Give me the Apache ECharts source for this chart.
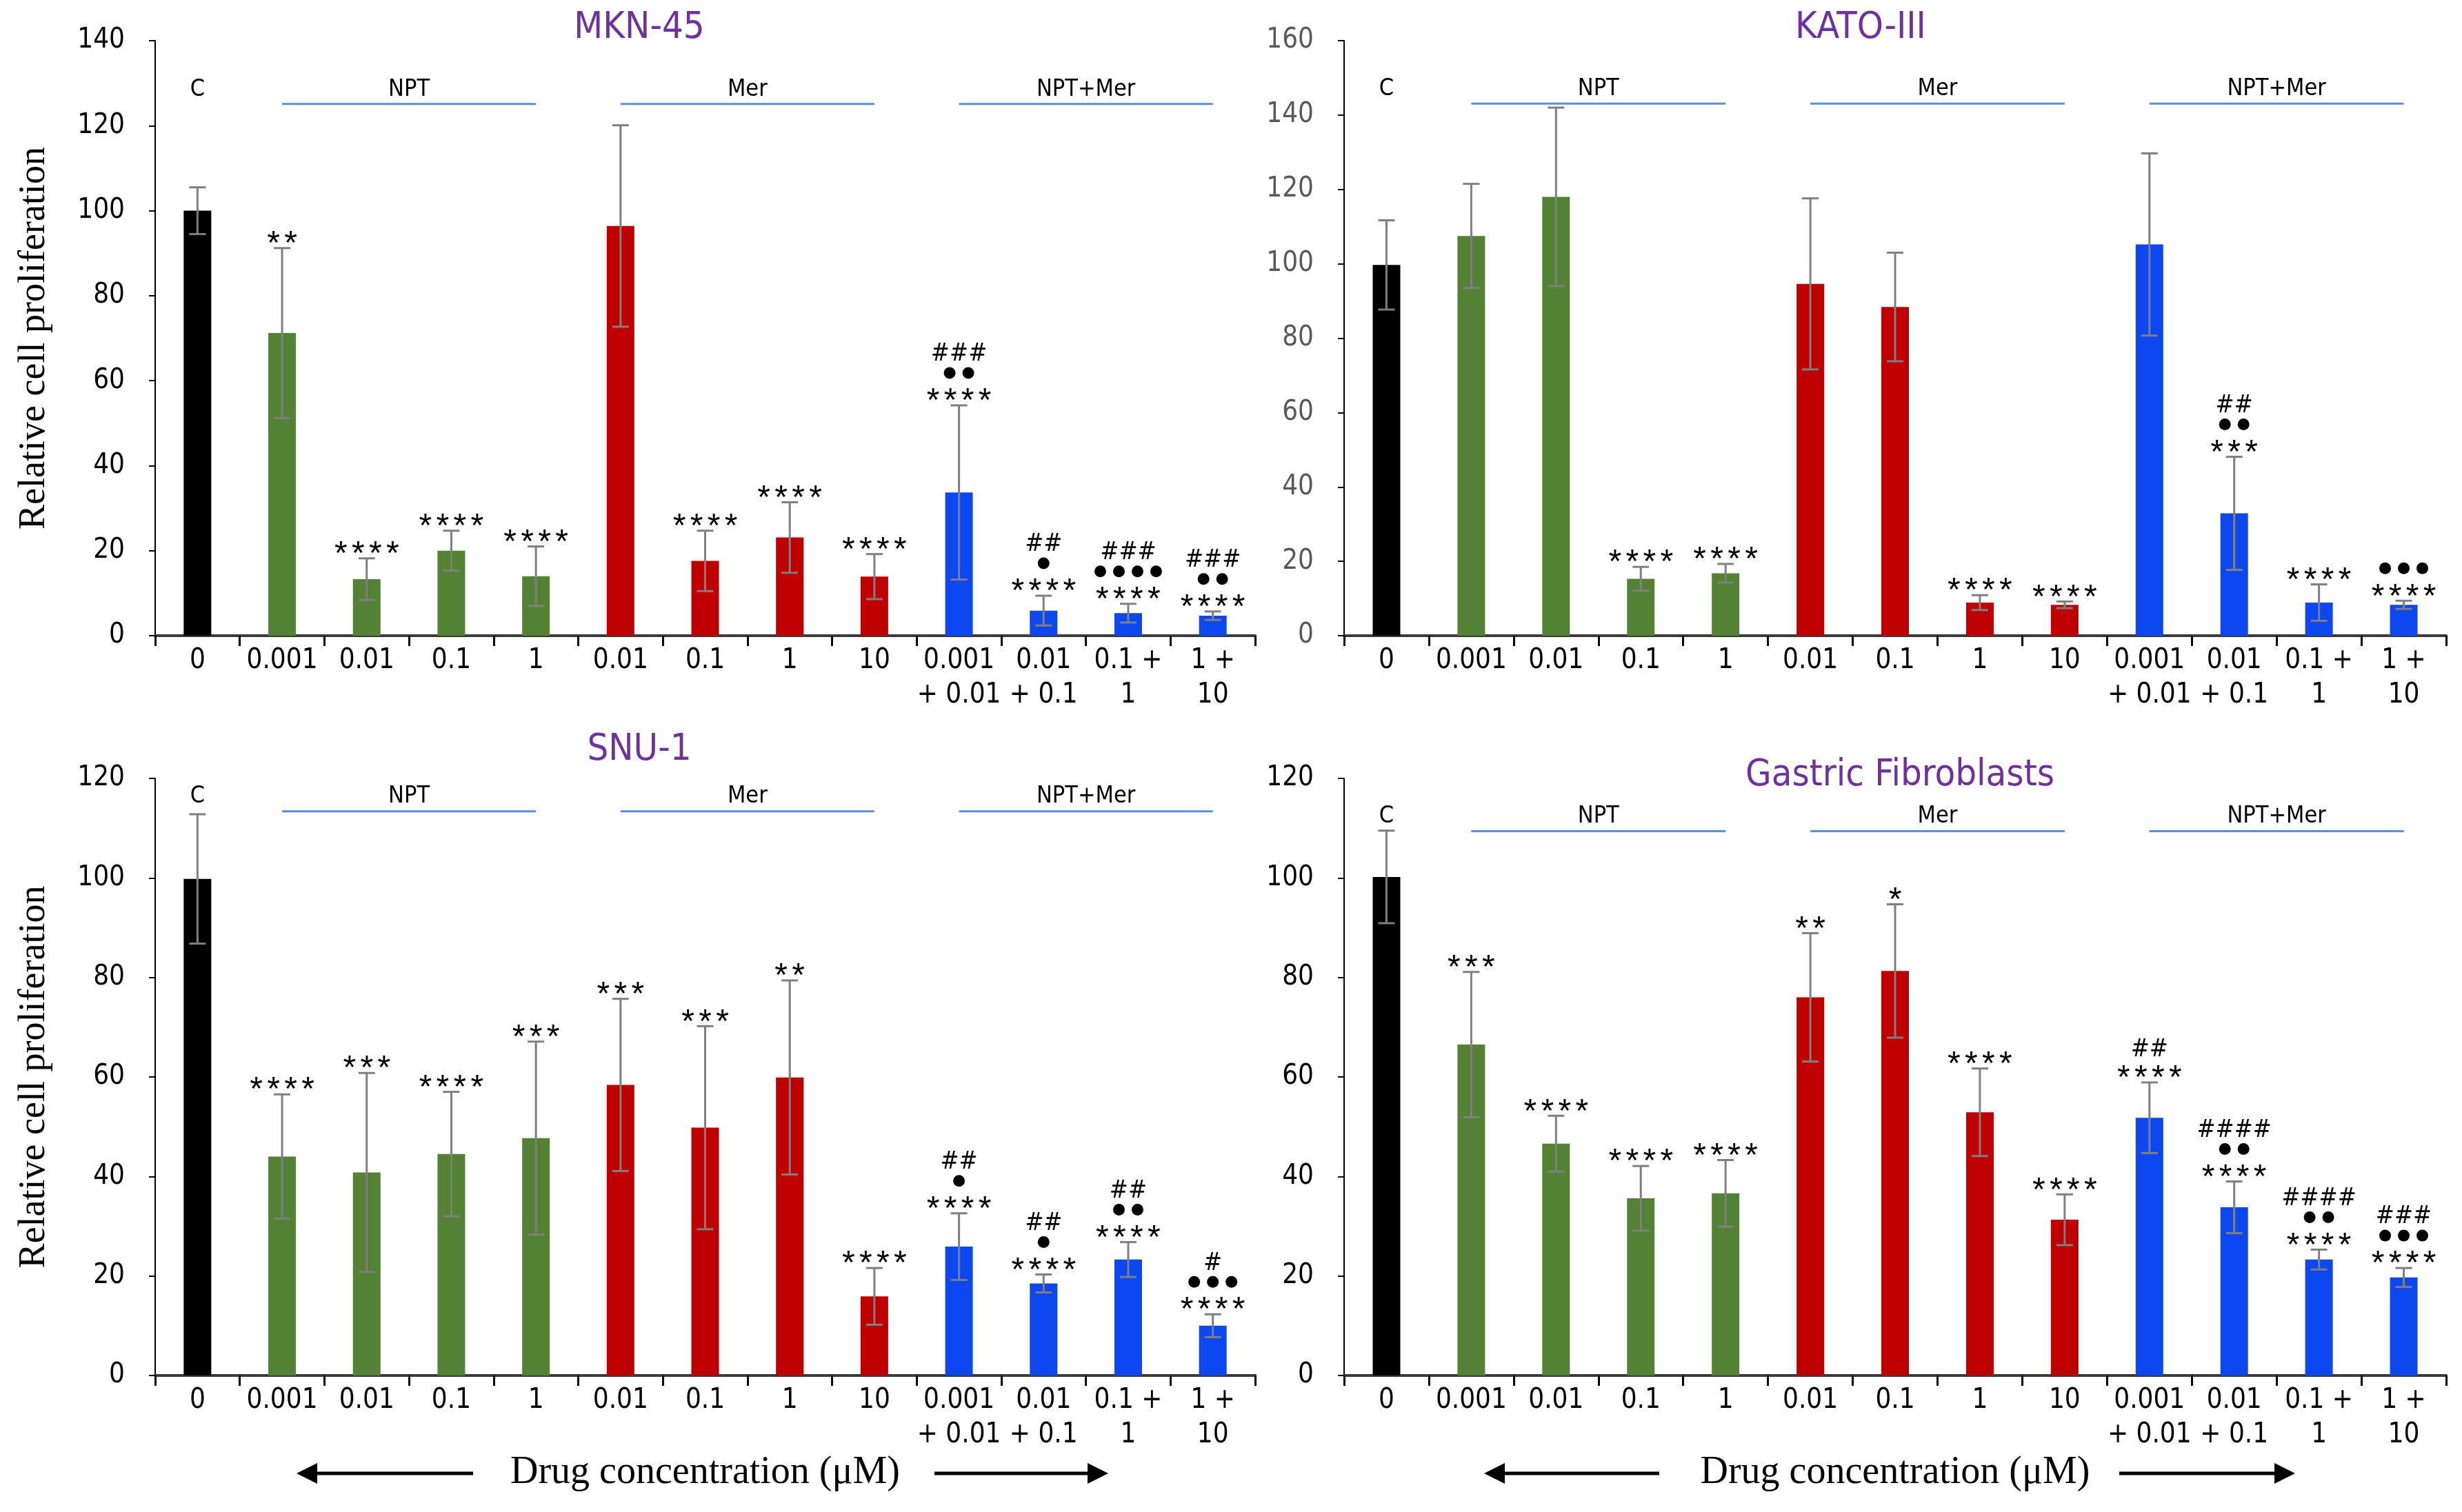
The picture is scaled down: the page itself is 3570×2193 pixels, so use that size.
<!DOCTYPE html>
<html>
<head>
<meta charset="utf-8">
<script src="https://cdn.jsdelivr.net/npm/echarts@6/dist/echarts.min.js"></script>
<style>
  html, body { margin: 0; padding: 0; background: #fff; }
  #main { width: 3570px; height: 2193px; }
</style>
</head>
<body>
<div id="main"></div>
<script>
// categories (drug concentration, uM) and treatment groups
const categories = ['0', '0.001', '0.01', '0.1', '1', '0.01', '0.1', '1', '10',
  '0.001\n+ 0.01', '0.01\n+ 0.1', '0.1 +\n1', '1 +\n10'];
const groupNames = ['C', 'NPT', 'Mer', 'NPT+Mer'];
const groupStart = [0, 1, 5, 9];
const groupEnd = [0, 4, 8, 12];

// MKN-45
const mknMean = [100, 71.2, 13.3, 20.0, 14.0, 96.4, 17.6, 23.1, 13.9, 33.7, 5.9, 5.3, 4.7];
const mknErr = [5.5, 20.0, 4.9, 4.7, 7.0, 23.7, 7.1, 8.3, 5.3, 20.5, 3.5, 2.2, 1.0];
const mknStars = ['', '**', '****', '****', '****', '', '****', '****', '****', '****', '****', '****', '****'];
const mknDots = [0, 0, 0, 0, 0, 0, 0, 0, 0, 2, 1, 4, 2];
const mknHash = ['', '', '', '', '', '', '', '', '', '###', '##', '###', '###'];

// KATO-III
const katoMean = [99.7, 107.5, 118.0, 15.3, 16.8, 94.6, 88.4, 8.9, 8.3, 105.2, 32.9, 8.9, 8.3];
const katoErr = [12.0, 14.0, 24.0, 3.2, 2.5, 23.0, 14.6, 2.0, 0.9, 24.5, 15.2, 4.9, 1.1];
const katoStars = ['', '', '', '****', '****', '', '', '****', '****', '', '***', '****', '****'];
const katoDots = [0, 0, 0, 0, 0, 0, 0, 0, 0, 0, 2, 0, 3];
const katoHash = ['', '', '', '', '', '', '', '', '', '', '##', '', ''];

// SNU-1
const snuMean = [99.8, 44.0, 40.8, 44.5, 47.7, 58.4, 49.8, 59.9, 15.9, 25.9, 18.5, 23.3, 10.0];
const snuErr = [13.0, 12.5, 20.0, 12.5, 19.4, 17.3, 20.4, 19.5, 5.7, 6.7, 1.8, 3.5, 2.3];
const snuStars = ['', '****', '***', '****', '***', '***', '***', '**', '****', '****', '****', '****', '****'];
const snuDots = [0, 0, 0, 0, 0, 0, 0, 0, 0, 1, 1, 2, 3];
const snuHash = ['', '', '', '', '', '', '', '', '', '##', '##', '##', '#'];

// Gastric Fibroblasts
const gfMean = [100.2, 66.5, 46.6, 35.6, 36.6, 76.0, 81.3, 52.9, 31.3, 51.8, 33.8, 23.3, 19.7];
const gfErr = [9.3, 14.6, 5.6, 6.5, 6.7, 12.9, 13.4, 8.8, 5.1, 7.1, 5.2, 2.0, 1.9];
const gfStars = ['', '***', '****', '****', '****', '**', '*', '****', '****', '****', '****', '****', '****'];
const gfDots = [0, 0, 0, 0, 0, 0, 0, 0, 0, 0, 2, 2, 3];
const gfHash = ['', '', '', '', '', '', '', '', '', '##', '####', '####', '###'];

const groupColor = ['#000000', '#548235', '#C00000', '#0D47F0'];
const sansFont = '"Liberation Sans Narrow", "DejaVu Sans Condensed", Lato, sans-serif';
const serifFont = '"Liberation Serif", "DejaVu Serif", serif';

const panels = [
  { title: 'MKN-45', mean: mknMean, err: mknErr, stars: mknStars, dots: mknDots, hash: mknHash,
    max: 140, level: 125.1, grid: { left: 225, top: 59, width: 1595, height: 863 },
    yColor: '#000', yName: true, xName: false, titlePos: [927, 41] },
  { title: 'KATO-III', mean: katoMean, err: katoErr, stars: katoStars, dots: katoDots, hash: katoHash,
    max: 160, level: 143.1, grid: { left: 1949, top: 59, width: 1598, height: 863 },
    yColor: '#595959', yName: false, xName: false, titlePos: [2698, 41] },
  { title: 'SNU-1', mean: snuMean, err: snuErr, stars: snuStars, dots: snuDots, hash: snuHash,
    max: 120, level: 113.4, grid: { left: 225, top: 1129, width: 1595, height: 866 },
    yColor: '#000', yName: true, xName: true, titlePos: [927, 1088] },
  { title: 'Gastric Fibroblasts', mean: gfMean, err: gfErr, stars: gfStars, dots: gfDots, hash: gfHash,
    max: 120, level: 109.4, grid: { left: 1949, top: 1129, width: 1598, height: 866 },
    yColor: '#000', yName: false, xName: true, titlePos: [2755, 1125] }
];

function colorOf(i) {
  for (let g = 0; g < groupNames.length; g++) {
    if (i >= groupStart[g] && i <= groupEnd[g]) return groupColor[g];
  }
  return '#000';
}

function errorRender(p) {
  return function (params, api) {
    const i = api.value(0), m = api.value(1), e = api.value(2);
    const top = api.coord([i, m + e]);
    const bot = api.coord([i, m - e]);
    const x = top[0], cw = 12;
    const es = { stroke: '#7f7f7f', lineWidth: 3 };
    const kids = [
      { type: 'line', shape: { x1: x, y1: top[1], x2: x, y2: bot[1] }, style: es },
      { type: 'line', shape: { x1: x - cw, y1: top[1], x2: x + cw, y2: top[1] }, style: es },
      { type: 'line', shape: { x1: x - cw, y1: bot[1], x2: x + cw, y2: bot[1] }, style: es }
    ];
    const k = params.dataIndex;
    let y = top[1] - 20;
    if (p.stars[k]) {
      // one glyph per star so the pitch matches the figure
      const n = p.stars[k].length;
      for (let j = 0; j < n; j++) {
        kids.push({ type: 'text', x: x + (j - (n - 1) / 2) * 25, y: y + 15, style: {
          text: '*', align: 'center', verticalAlign: 'middle',
          fontSize: 48, fontFamily: '"Liberation Sans", sans-serif', fill: '#000' } });
      }
      y -= 27;
    }
    if (p.dots[k]) {
      const n = p.dots[k];
      for (let d = 0; d < n; d++) {
        kids.push({ type: 'circle', shape: { cx: x + (d - (n - 1) / 2) * 27, cy: y, r: 8.5 },
          style: { fill: '#000' } });
      }
      y -= 27;
    }
    if (p.hash[k]) {
      kids.push({ type: 'text', x: x, y: y, style: {
        text: p.hash[k], align: 'center', verticalAlign: 'middle',
        fontSize: 36, fontFamily: sansFont, fill: '#000' } });
    }
    return { type: 'group', children: kids };
  };
}

function groupRender(params, api) {
  const a = api.coord([api.value(0), api.value(2)]);
  const b = api.coord([api.value(1), api.value(2)]);
  const kids = [];
  if (b[0] > a[0]) {
    kids.push({ type: 'line', shape: { x1: a[0], y1: a[1], x2: b[0], y2: b[1] },
      style: { stroke: '#5B8DE0', lineWidth: 3 } });
  }
  kids.push({ type: 'text', x: (a[0] + b[0]) / 2, y: a[1] - 21, style: {
    text: groupNames[params.dataIndex], align: 'center', verticalAlign: 'middle',
    fontSize: 34, fontFamily: sansFont, fill: '#000' } });
  return { type: 'group', children: kids };
}

function arrow(xFrom, xTo, y) {
  const dir = xTo > xFrom ? 1 : -1;
  return { type: 'group', children: [
    { type: 'line', shape: { x1: xFrom, y1: y, x2: xTo - dir * 20, y2: y }, style: { stroke: '#000', lineWidth: 5 } },
    { type: 'polygon', shape: { points: [[xTo, y], [xTo - dir * 30, y - 15], [xTo - dir * 30, y + 15]] }, style: { fill: '#000' } }
  ] };
}

const grids = [], xAxes = [], yAxes = [], series = [], graphics = [];
panels.forEach((p, k) => {
  grids.push(p.grid);
  xAxes.push({
    type: 'category', gridIndex: k, data: categories,
    axisLine: { lineStyle: { color: '#3a3a3a', width: 4 } },
    axisTick: { show: true, length: 15, lineStyle: { color: '#000', width: 3 } },
    axisLabel: { interval: 0, fontSize: 40, lineHeight: 50, margin: 12, color: '#000', fontFamily: sansFont },
    name: p.xName ? 'Drug concentration (\u03bcM)' : '',
    nameLocation: 'middle', nameGap: 112,
    nameTextStyle: { fontSize: 56, fontFamily: serifFont, color: '#000' }
  });
  yAxes.push({
    type: 'value', gridIndex: k, min: 0, max: p.max, interval: 20,
    splitLine: { show: false },
    axisLine: { show: true, lineStyle: { color: '#000', width: 2 } },
    axisTick: { show: true, length: 9, lineStyle: { color: '#000', width: 2 } },
    axisLabel: { fontSize: 40, margin: 44, color: p.yColor, fontFamily: sansFont },
    name: p.yName ? 'Relative cell proliferation' : '',
    nameLocation: 'middle', nameGap: 148,
    nameTextStyle: { fontSize: 54, fontFamily: serifFont, color: '#000' }
  });
  series.push({
    type: 'bar', xAxisIndex: k, yAxisIndex: k, barWidth: 40,
    data: p.mean.map((v, i) => ({ value: v, itemStyle: { color: colorOf(i) } }))
  });
  series.push({
    type: 'custom', xAxisIndex: k, yAxisIndex: k, z: 5,
    renderItem: errorRender(p),
    data: p.mean.map((v, i) => [i, v, p.err[i]])
  });
  series.push({
    type: 'custom', xAxisIndex: k, yAxisIndex: k, z: 5,
    renderItem: groupRender,
    data: groupNames.map((n, g) => [groupStart[g], groupEnd[g], p.level])
  });
  graphics.push({ type: 'text', x: p.titlePos[0], y: p.titlePos[1], style: {
    text: p.title, align: 'center', verticalAlign: 'middle',
    fontSize: 54, fontFamily: sansFont, fill: '#7030A0' } });
});

graphics.push(arrow(686, 430, 2137), arrow(1355, 1607, 2137));
graphics.push(arrow(2406, 2152, 2137), arrow(3073, 3328, 2137));

const chart = echarts.init(document.getElementById('main'));
chart.setOption({
  animation: false,
  backgroundColor: '#fff',
  grid: grids,
  xAxis: xAxes,
  yAxis: yAxes,
  series: series,
  graphic: graphics
});
</script>
</body>
</html>
